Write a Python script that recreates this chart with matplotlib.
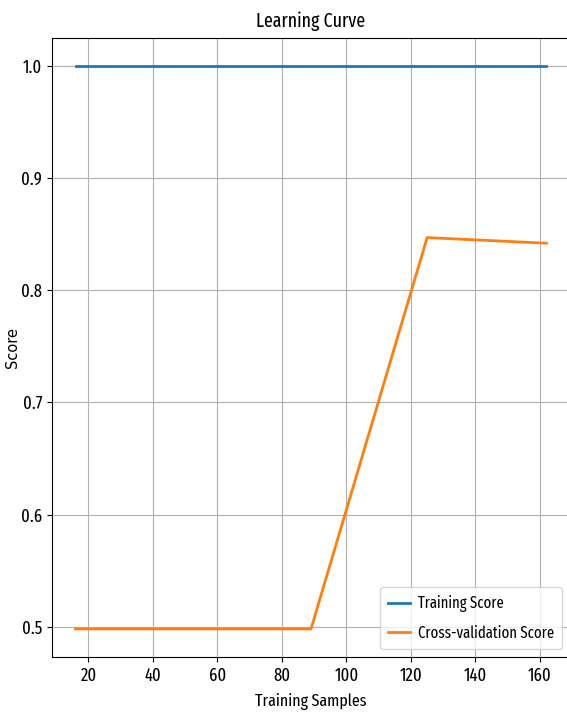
import matplotlib
matplotlib.use("Agg")
import matplotlib.pyplot as plt

# learning curve values
train_sizes = [16, 52, 89, 125, 162]
train_scores = [1.0, 1.0, 1.0, 1.0, 1.0]
cv_scores = [0.498, 0.498, 0.498, 0.847, 0.842]

NARROW = ["Fira Sans Extra Condensed", "DejaVu Sans"]

fig = plt.figure(figsize=(5.67, 7.15), dpi=100)
ax = fig.add_axes([0.0917, 0.081, 0.9136, 0.866])

ax.plot(train_sizes, train_scores, lw=2, label="Training Score")
ax.plot(train_sizes, cv_scores, lw=2, label="Cross-validation Score")

ax.set_title("Learning Curve", fontsize=14, family=NARROW, pad=8)
ax.set_xlabel("Training Samples", fontsize=12.5, family=NARROW, labelpad=6)
ax.set_ylabel("Score", fontsize=10.5, family="DejaVu Sans", labelpad=1)
ax.grid(True)

for lab in ax.get_xticklabels() + ax.get_yticklabels():
    lab.set_family(NARROW)
    lab.set_fontsize(13)

leg = ax.legend(loc="lower right", prop={"family": NARROW, "size": 11.5},
                handlelength=1.4, handletextpad=0.5, borderpad=0.5,
                labelspacing=0.8)

fig.savefig("out.png", dpi=100)
